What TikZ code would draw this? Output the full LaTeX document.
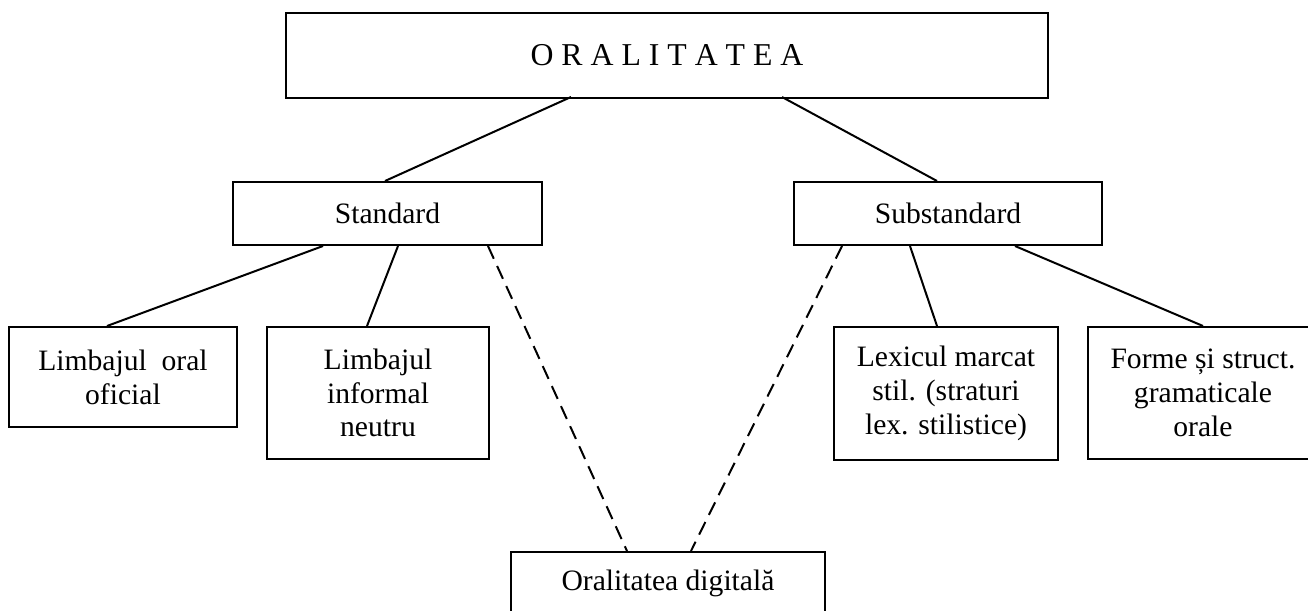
\documentclass[tikz,border=0pt]{standalone}
\usepackage{fontspec}
\setmainfont{Liberation Serif}
\begin{document}
\begin{tikzpicture}[x=0.5pt,y=-0.5pt,
  box/.style={draw=black,line width=1pt,rectangle,inner sep=0pt,align=center,
    font=\fontsize{14.8}{16.9}\selectfont},
  link/.style={draw=black,line width=1pt},
  dlink/.style={draw=black,line width=1pt,dash pattern=on 7pt off 4pt}]
\clip (0,0) rectangle (1308,611);
\fill[white] (0,0) rectangle (1308,611);
\node[box,minimum width=381pt,minimum height=42.5pt,font=\fontsize{15.9}{18}\selectfont] (top) at (667,55) {O R A L I T A T E A};
\node[box,minimum width=154.5pt,minimum height=31.5pt] (std) at (387.5,213.5) {Standard};
\node[box,minimum width=154pt,minimum height=31.5pt] (sub) at (948,213.5) {Substandard};
\node[box,minimum width=114pt,minimum height=50pt] (oral) at (123,377) {Limbajul\ \ oral\\oficial};
\node[box,minimum width=111pt,minimum height=66pt] (inf) at (378,393) {Limbajul\\informal\\neutru};
\node[box,minimum width=112pt,minimum height=66.5pt] (lex) at (946,393.5) {Lexicul marcat\\stil. (straturi\\lex. stilistice)};
\node[box,minimum width=115pt,minimum height=66pt] (forme) at (1203,393) {Forme și struct.\\gramaticale\\orale};
\node[box,minimum width=157pt,minimum height=31.5pt] (dig) at (668,583.5) {Oralitatea digitală};
\draw[link] ([xshift=-48pt,yshift=0.75pt]top.south) -- ([xshift=-1.25pt]std.north);
\draw[link] ([xshift=57.5pt,yshift=0.75pt]top.south) -- ([xshift=-5.5pt]sub.north);
\draw[link] ([xshift=-32.25pt]std.south) -- ([xshift=-8pt]oral.north);
\draw[link] ([xshift=5.25pt]std.south) -- ([xshift=-5.5pt]inf.north);
\draw[dlink] ([xshift=50.25pt]std.south) -- ([xshift=-20.5pt]dig.north);
\draw[dlink] ([xshift=-53pt]sub.south) -- ([xshift=11.5pt]dig.north);
\draw[link] ([xshift=-19pt]sub.south) -- ([xshift=-4.5pt]lex.north);
\draw[link] ([xshift=33.5pt]sub.south) -- (forme.north);
\end{tikzpicture}
\end{document}
